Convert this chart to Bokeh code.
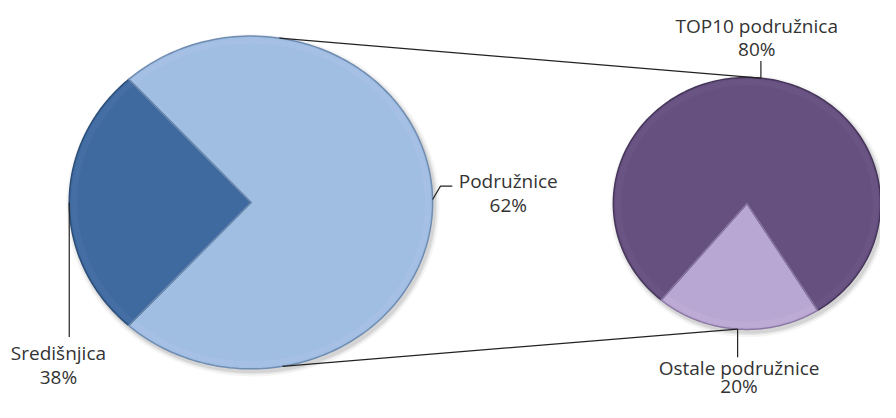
import numpy as np
from bokeh.plotting import figure
from bokeh.models import Range1d, ColumnDataSource
from bokeh.core.properties import value
from bokeh.embed import file_html
from bokeh.resources import INLINE

# ---- data ----
main_categories = ["Središnjica", "Podružnice"]
main_shares = [26.5, 73.5]          # slice sizes as drawn
main_labels = ["38%", "62%"]        # label texts as printed
sub_categories = ["TOP10 podružnica", "Ostale podružnice"]
sub_shares = [80, 20]
sub_labels = ["80%", "20%"]

main_colors = ["#3F6A9F", "#A0BDE2"]
sub_colors = ["#66507F", "#B9A7D3"]
main_edges = ["#2B4D78", "#6F8CB2"]
sub_edges = ["#45355A", "#8A77A4"]
main_hi = ["#5A82B4", "#B4CDEC"]
sub_hi = ["#7A6494", "#CBBCE0"]

W, H = 880, 402
p = figure(width=W, height=H, output_backend="svg", toolbar_location=None,
           x_range=Range1d(0, 896), y_range=Range1d(418, 0),
           min_border=0)
p.axis.visible = False
p.grid.visible = False
p.outline_line_color = None
p.background_fill_color = "white"
p.border_fill_color = "white"

FONT = "Open Sans"


def wedge_pts(cx, cy, rx, ry, a0, a1, n=180):
    a = np.radians(np.linspace(a0, a1, n))
    xs = np.concatenate([[cx], cx + rx * np.cos(a)])
    ys = np.concatenate([[cy], cy - ry * np.sin(a)])
    return list(xs), list(ys)


def ell_pt(cx, cy, rx, ry, ang):
    a = np.radians(ang)
    return cx + rx * np.cos(a), cy - ry * np.sin(a)


def draw_pie(cx, cy, rx, ry, angle_pairs, fills, edges, his):
    # soft shadow
    for k, al in [(5, 0.04), (3, 0.06), (1.5, 0.08)]:
        xs, ys = wedge_pts(cx + 2, cy + 3, rx + k, ry + k, 0, 360)
        p.patch(xs[1:], ys[1:], fill_color="black", fill_alpha=al, line_color=None)
    px, py = [], []
    for a0, a1 in angle_pairs:
        xs, ys = wedge_pts(cx, cy, rx, ry, a0, a1)
        px.append(xs); py.append(ys)
    p.patches(px, py, fill_color=fills, line_color=None)
    # bevel highlight band near rim
    for (a0, a1), hc in zip(angle_pairs, his):
        a = np.radians(np.linspace(a0, a1, 180))
        ox = cx + (rx - 2) * np.cos(a); oy = cy - (ry - 2) * np.sin(a)
        ix = cx + (rx - 8) * np.cos(a[::-1]); iy = cy - (ry - 8) * np.sin(a[::-1])
        p.patch(list(np.concatenate([ox, ix])), list(np.concatenate([oy, iy])),
                fill_color=hc, fill_alpha=0.22, line_color=None)
    p.patches(px, py, fill_color=None, line_color=edges, line_width=1.5)


# ---- main pie (left) ----
mcx, mcy, mrx, mry = 255, 210, 185, 173
tot = sum(main_shares)
span_other = main_shares[1] / tot * 360
start = -span_other / 2
angles_main = [(start + span_other, start + 360), (start, start + span_other)]
draw_pie(mcx, mcy, mrx, mry, angles_main, main_colors, main_edges, main_hi)

# ---- sub pie (right) ----
scx, scy, srx, sry = 760, 211, 136, 131
stot = sum(sub_shares)
small_span = sub_shares[1] / stot * 360
small_center = 266
angles_sub = [(small_center + small_span / 2, small_center - small_span / 2 + 360),
              (small_center - small_span / 2, small_center + small_span / 2)]
draw_pie(scx, scy, srx, sry, angles_sub, sub_colors, sub_edges, sub_hi)

# ---- connector lines ----
t0 = ell_pt(mcx, mcy, mrx, mry, 81)
t1 = ell_pt(scx, scy, srx, sry, 84)
b0 = ell_pt(mcx, mcy, mrx, mry, -80)
b1 = ell_pt(scx, scy, srx, sry, -94)
p.line([t0[0], t1[0]], [t0[1], t1[1]], line_color="#222222", line_width=1.2)
p.line([b0[0], b1[0]], [b0[1], b1[1]], line_color="#222222", line_width=1.2)

# ---- leader lines ----
lx, ly = ell_pt(mcx, mcy, mrx, mry, 180)
p.line([lx, lx], [ly, 350], line_color="#222222", line_width=1.2)
rx_, ry_ = ell_pt(mcx, mcy, mrx, mry, 1)
p.line([rx_, 448, 460], [ry_, 193, 193], line_color="#222222", line_width=1.2)
tx, ty = ell_pt(scx, scy, srx, sry, 84)
p.line([tx, tx], [63, ty], line_color="#222222", line_width=1.2)
bx, by = ell_pt(scx, scy, srx, sry, -94)
p.line([bx, bx], [by, 371], line_color="#222222", line_width=1.2)

# ---- labels ----
lab = ColumnDataSource(dict(
    x=[59, 59, 517, 517, 770, 770, 752, 752],
    y=[367, 392, 188, 213, 26, 50, 382, 401],
    t=[main_categories[0], main_labels[0], main_categories[1], main_labels[1],
       sub_categories[0], sub_labels[0], sub_categories[1], sub_labels[1]],
))
p.text(x="x", y="y", text="t", source=lab, text_align="center",
       text_baseline="middle", text_font=value(FONT), text_font_size="19px",
       text_color="#333333")

open("out.html", "w").write(file_html(p, INLINE))
